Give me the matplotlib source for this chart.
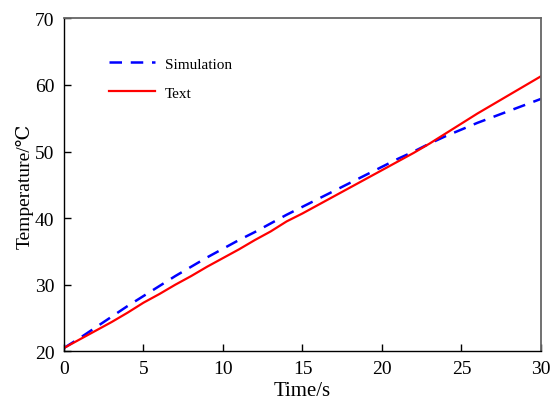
import matplotlib
matplotlib.use("Agg")
import matplotlib.pyplot as plt

plt.rcParams['font.family'] = ['Liberation Serif', 'DejaVu Serif']
plt.rcParams['mathtext.fontset'] = 'stix'

time_s = [0, 1, 2, 3, 4, 5, 6, 7, 8, 9, 10, 11, 12, 13, 14, 15,
          16, 17, 18, 19, 20, 21, 22, 23, 24, 25, 26, 27, 28, 29, 30]
simulation = [20.5, 22.0, 23.6, 25.2, 26.8, 28.3, 29.8, 31.3, 32.7, 34.1, 35.4,
              36.7, 37.9, 39.2, 40.5, 41.7, 42.9, 44.1, 45.3, 46.5, 47.7,
              48.9, 50.0, 51.2, 52.3, 53.3, 54.3, 55.2, 56.1, 57.0, 57.9]
text_exp = [20.5, 21.8, 23.1, 24.4, 25.8, 27.3, 28.6, 30.0, 31.3, 32.7, 34.0,
            35.3, 36.7, 38.0, 39.5, 40.7, 42.0, 43.3, 44.6, 45.9, 47.2,
            48.5, 49.8, 51.2, 52.7, 54.2, 55.7, 57.1, 58.5, 59.9, 61.3]
xticks = [0, 5, 10, 15, 20, 25, 30]
yticks = [20, 30, 40, 50, 60, 70]

fig = plt.figure(figsize=(5.53, 4.02), dpi=100)
ax = fig.add_axes([0.1157, 0.1236, 0.8626, 0.8284])

ax.plot(time_s, simulation, color='#0000ff', lw=1.8, dashes=(5, 3.5), label='Simulation')
ax.plot(time_s, text_exp, color='#ff0000', lw=1.6, label='Text')

ax.set_xlim(0, 30)
ax.set_ylim(20, 70)
ax.set_xticks(xticks)
ax.set_yticks(yticks)
ax.tick_params(direction='in', length=5, width=1, labelsize=14, top=False, right=False)
ax.tick_params(axis='x', pad=6)
ax.tick_params(axis='y', pad=7)
for s in ['top', 'right']:
    ax.spines[s].set_color('#666666')
    ax.spines[s].set_linewidth(1.3)
for s in ['left', 'bottom']:
    ax.spines[s].set_color('black')
    ax.spines[s].set_linewidth(1.0)

ax.set_xlabel('Time/s', fontsize=15, labelpad=3)
ax.set_ylabel('Temperature/℃', fontsize=14, labelpad=1)

ax.legend(loc='upper left', bbox_to_anchor=(0.065, 0.925), frameon=False, fontsize=11,
          handlelength=3.0, handletextpad=0.65, labelspacing=1.0)

fig.savefig('out.png', dpi=100)
